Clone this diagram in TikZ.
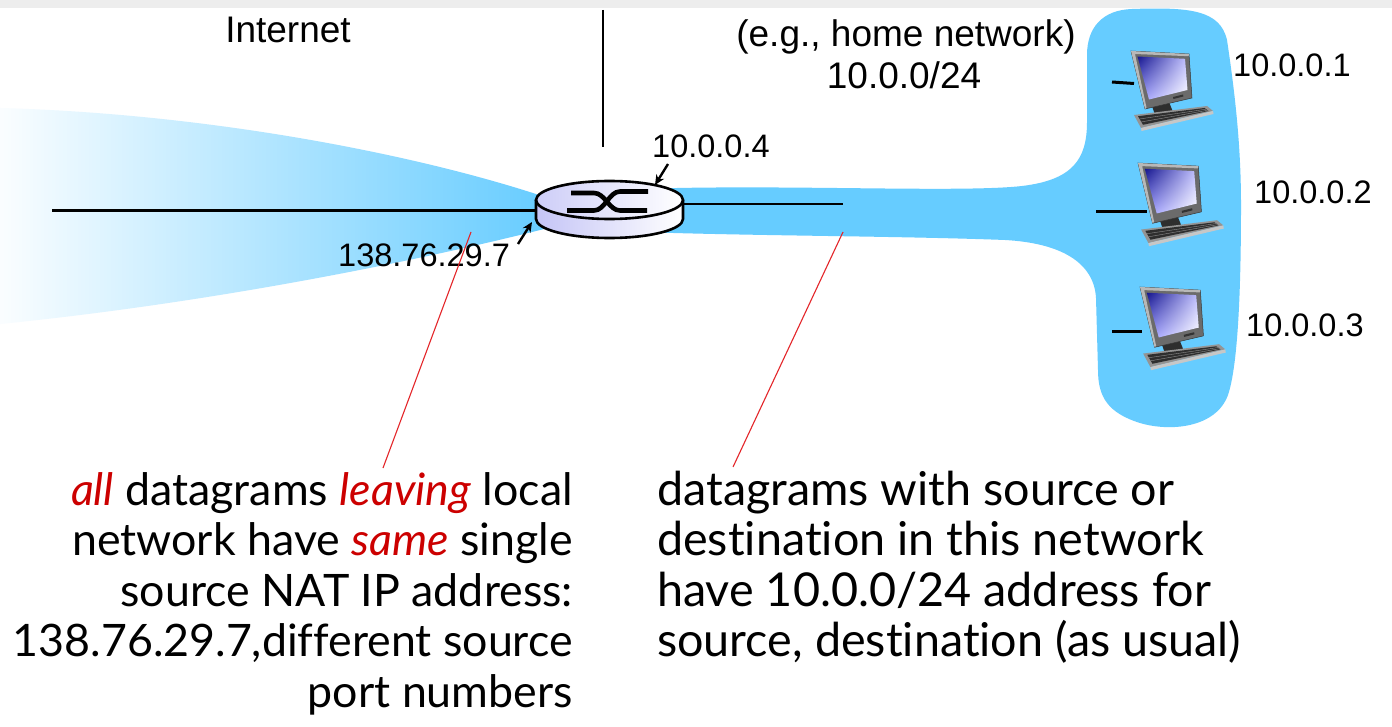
\documentclass[tikz,border=0pt]{standalone}
\usepackage{fontspec}
\setmainfont{Liberation Sans}
\newfontfamily\gill[Ligatures={NoCommon}]{Lato}
\usetikzlibrary{arrows.meta,shadings}

\definecolor{netblue}{HTML}{66CCFF}
\definecolor{lav}{HTML}{C4C4F6}
\definecolor{scrdark}{HTML}{16168E}
\definecolor{hlred}{HTML}{CC0000}
\definecolor{rline}{HTML}{E4262A}

\newlength\gillw
\newlength\gillwL

\tikzset{
  lbl/.style={inner sep=0pt, font=\fontsize{37}{40}\selectfont},
  iplbl/.style={inner sep=0pt, font=\fontsize{32.5}{36}\selectfont},
  note/.style={inner sep=0pt, font=\gill\fontsize{\gillsize}{50}\selectfont},
  noteL/.style={inner sep=0pt, font=\gill\fontsize{\gillsizeL}{50}\selectfont},
  redline/.style={draw=rline, line width=1.1pt},
  wire/.style={line width=3pt, black},
  stub/.style={line width=3pt, black},
  ptr/.style={line width=2.4pt, -{Stealth[length=10pt,width=9pt]}},
  pics/pc/.style={code={
    % stand
    \fill[black!82] (21,55) -- (38,51) -- (42,61) -- (24,64) -- cycle;
    % monitor casing with a light rim on the top and left
    \fill[black!58, draw=black!78, line width=0.5pt] (0,0) -- (58,3) -- (61,47) -- (14,58) -- cycle;
    \fill[black!28] (0,0) -- (58,3) -- (57.6,5.2) -- (4,3) -- (15.5,56.6) -- (14,58) -- cycle;
    % screen
    \shade[upper left=scrdark, upper right=blue!25!white, lower left=blue!40!white, lower right=white]
      (6.5,5.5) -- (54,7.8) -- (56.5,39) -- (18,48.5) -- cycle;
    \fill[black!80] (42,46) -- (52,43.5) -- (52.4,45.5) -- (42.4,48) -- cycle;
    % keyboard
    \fill[black!42] (3,64) -- (76,55) -- (82,60) -- (10,77) -- cycle;
    \fill[black!82] (7,65.2) -- (73.5,57) -- (77.5,60) -- (12,73.8) -- cycle;
    \draw[black!45, line width=0.4pt] (8.5,68) -- (75,58.2) (10,71) -- (76.5,59.3);
    \fill[black!22] (10,77) -- (82,60) -- (82.5,63) -- (10.5,80) -- cycle;
  }},
}

\begin{document}
\settowidth\gillw{\gill\fontsize{10}{12}\selectfont source, destination (as usual)}
\pgfmathsetmacro\gillsize{10*584/\gillw}
\settowidth\gillwL{\gill\fontsize{10}{12}\selectfont 138.76.29.7,different source}
\pgfmathsetmacro\gillsizeL{min(\gillsize,10*560/\gillwL)}
\begin{tikzpicture}[x=1pt,y=-1pt]
\useasboundingbox (0,0) rectangle (1392,727);
\fill[white] (0,0) rectangle (1392,727);
\fill[black!7] (0,0) rectangle (1392,8);

% public side: fading cone into the router
\shade[left color=netblue!3, right color=netblue]
  (0,108) .. controls (220,114) and (430,158) .. (548,198)
  -- (548,228) .. controls (430,258) and (220,302) .. (0,324) -- cycle;

% private side: link and home network
\fill[netblue] (640,189)
  .. controls (780,184) and (960,193) .. (1022,186)
  .. controls (1072,180) and (1087,160) .. (1087,122)
  -- (1087,55)
  .. controls (1087,28) and (1102,10) .. (1132,9)
  .. controls (1190,7) and (1220,10) .. (1227,40)
  .. controls (1236,100) and (1241,150) .. (1241,205)
  .. controls (1241,290) and (1238,365) .. (1228,395)
  .. controls (1216,428) and (1170,432) .. (1140,423)
  .. controls (1108,413) and (1098,397) .. (1098,370)
  -- (1096,298)
  .. controls (1094,262) and (1060,243) .. (1005,240)
  .. controls (900,236) and (760,236) .. (640,232)
  -- cycle;

% boundary between the Internet and the home network
\coordinate (divTop) at (603,10);
\coordinate (divBot) at (603,147);
\draw[line width=1.3pt] (divTop) -- (divBot);

% links
\coordinate (wanEnd) at (52,211);
\coordinate (rtrW) at (540,211);
\coordinate (rtrE) at (680,204);
\coordinate (lanEnd) at (843,204);
\draw[wire] (wanEnd) -- (rtrW);
\draw[line width=2.8pt] (rtrE) -- (lanEnd);

% NAT router
\shade[left color=lav, right color=white] (536,200) rectangle (683,219);
\shade[left color=lav, right color=white] (609.5,219) ellipse[x radius=73.5pt, y radius=19pt];
\draw[line width=2.6pt] (536,200) -- (536,219) arc[start angle=180, end angle=360, x radius=73.5pt, y radius=19pt] -- (683,200);
\shadedraw[left color=lav!85, right color=white, draw=black, line width=2.6pt] (609.5,200) ellipse[x radius=73.5pt, y radius=19pt];
\draw[line width=4.6pt] (571,193) -- (594,193) .. controls (605,193) and (609,210.5) .. (620,210.5) -- (647,210.5);
\draw[line width=4.6pt] (567,210.5) -- (594,210.5) .. controls (605,210.5) and (609,191.5) .. (620,191.5) -- (648,191.5);

% hosts
\pic at (1131,51) {pc};
\pic[scale=1.04] at (1138,163) {pc};
\pic[scale=1.04] at (1140,287) {pc};
\coordinate (h1a) at (1112,82); \coordinate (h1b) at (1134,83.5);
\coordinate (h2a) at (1096,212); \coordinate (h2b) at (1147,212);
\coordinate (h3a) at (1112,331); \coordinate (h3b) at (1142,331);
\draw[stub] (h1a) -- (h1b);
\draw[stub] (h2a) -- (h2b);
\draw[stub] (h3a) -- (h3b);

% labels
\node[lbl, anchor=base] (inet) at (288,42.5) {Internet};
\node[lbl, anchor=base] (home) at (906,46.5) {(e.g., home network)};
\node[lbl, anchor=base] (subnet) at (904,88.5) {10.0.0/24};
\node[iplbl, anchor=base west] (lanip) at (652,158) {10.0.0.4};
\node[iplbl, anchor=base west] (wanip) at (338,266.5) {138.76.29.7};
\node[iplbl, anchor=base west] (ip1) at (1233,77) {10.0.0.1};
\node[iplbl, anchor=base west] (ip2) at (1254,204) {10.0.0.2};
\node[iplbl, anchor=base west] (ip3) at (1246,337) {10.0.0.3};

% interface pointers
\coordinate (lanTail) at (668,164); \coordinate (lanTip) at (655,185);
\coordinate (wanTail) at (518,244); \coordinate (wanTip) at (532,222);
\draw[ptr] (lanTail) -- (lanTip);
\draw[ptr] (wanTail) -- (wanTip);

% callouts
\node[noteL, anchor=base east] (l1) at (573,505) {\textcolor{hlred}{\textit{all}} datagrams \textcolor{hlred}{\textit{leaving}} local};
\node[noteL, anchor=base east] (l2) at (573,555.5) {network have \textcolor{hlred}{\textit{same}} single};
\node[noteL, anchor=base east] (l3) at (573,606) {source NAT IP address:};
\node[noteL, anchor=base east] (l4) at (573,656.5) {138.76.29.7,different source};
\node[noteL, anchor=base east] (l5) at (573,707) {port numbers};
\node[note, anchor=base west] (r1) at (657,505) {datagrams with source or};
\node[note, anchor=base west] (r2) at (657,555.5) {destination in this network};
\node[note, anchor=base west] (r3) at (657,606) {have 10.0.0/24 address for};
\node[note, anchor=base west] (r4) at (657,656.5) {source, destination (as usual)};

\coordinate (wanPt) at (471,232); \coordinate (wanNote) at (383,468);
\coordinate (lanPt) at (843,232); \coordinate (lanNote) at (733,467);
\draw[redline] (wanPt) -- (wanNote);
\draw[redline] (lanPt) -- (lanNote);
\end{tikzpicture}
\end{document}
